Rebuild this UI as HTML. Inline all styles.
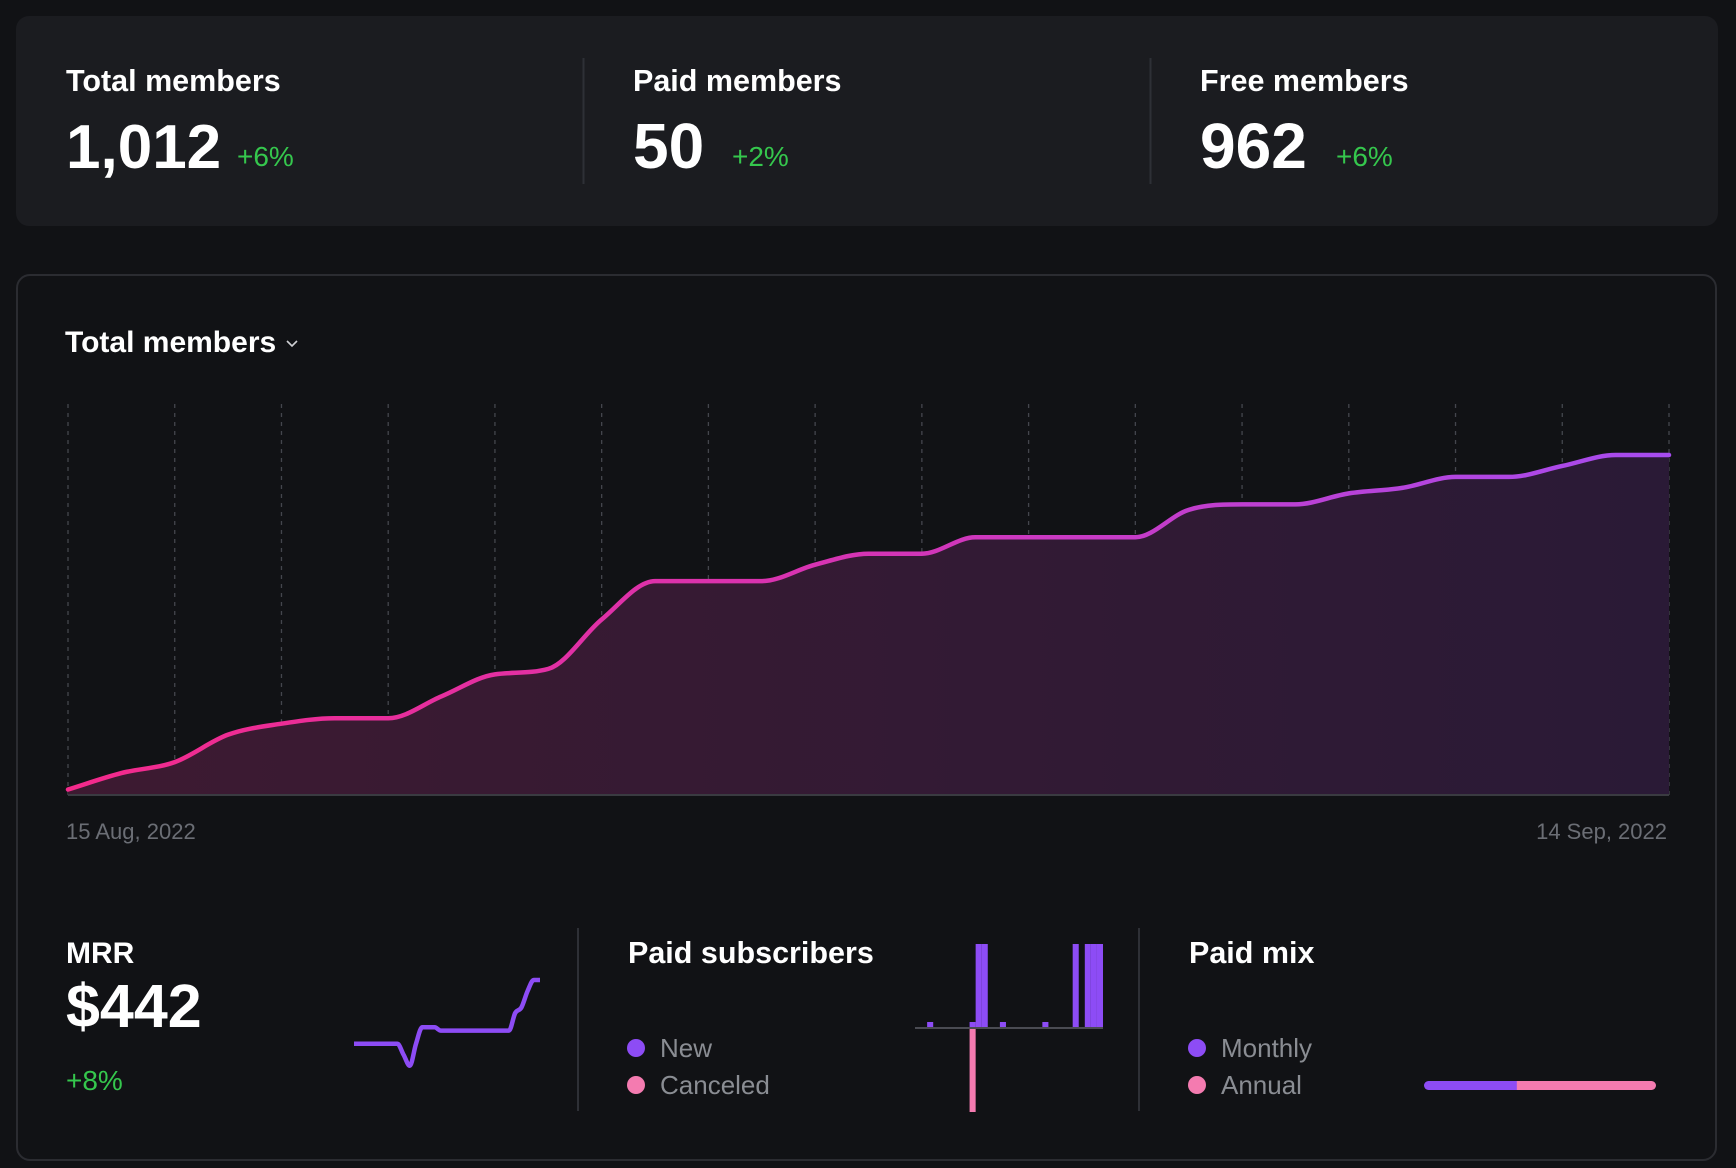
<!DOCTYPE html>
<html><head><meta charset="utf-8"><style>
html,body{margin:0;padding:0;background:#111215;}
svg{display:block;font-family:"Liberation Sans",sans-serif;}
</style></head><body>
<svg id="root" width="1736" height="1168" viewBox="0 0 1736 1168">
<defs>
<linearGradient id="lineGrad" x1="0" x2="1" y1="0" y2="0"><stop offset="0" stop-color="#f42a8b"/><stop offset="0.5" stop-color="#d534b5"/><stop offset="1" stop-color="#a64cf0"/></linearGradient>
<linearGradient id="fillGrad" x1="0" x2="1" y1="0" y2="0"><stop offset="0" stop-color="#3d1a31"/><stop offset="1" stop-color="#2a1a36"/></linearGradient>
</defs>
<rect x="16" y="16" width="1702" height="210" rx="13" fill="#1b1c20"/>
<g>
<text x="66" y="91" font-size="30.5" font-weight="bold" fill="#ffffff">Total members</text>
<text x="66" y="168" font-size="62" font-weight="bold" fill="#ffffff">1,012</text>
<text x="237" y="166" font-size="28" fill="#35c74d">+6%</text></g>
<line x1="583.5" y1="58" x2="583.5" y2="184" stroke="#2e3036" stroke-width="2"/>
<g>
<text x="633" y="91" font-size="30.5" font-weight="bold" fill="#ffffff">Paid members</text>
<text x="633" y="168" font-size="64" font-weight="bold" fill="#ffffff">50</text>
<text x="732" y="166" font-size="28" fill="#35c74d">+2%</text></g>
<line x1="1150.5" y1="58" x2="1150.5" y2="184" stroke="#2e3036" stroke-width="2"/>
<g>
<text x="1200" y="91" font-size="30.5" font-weight="bold" fill="#ffffff">Free members</text>
<text x="1200" y="168" font-size="64" font-weight="bold" fill="#ffffff">962</text>
<text x="1336" y="166" font-size="28" fill="#35c74d">+6%</text></g>

<rect x="17" y="275" width="1699" height="885" rx="13" fill="#111215" stroke="#2b2c31" stroke-width="2"/>
<g>
<text x="65" y="352" font-size="30" font-weight="bold" fill="#ffffff">Total members</text>
<path d="M287 341 L292 346 L297 341" fill="none" stroke="#cfd0d4" stroke-width="1.6"/></g>
<g id="grid"></g>
<path id="areaPath" fill="url(#fillGrad)"/>
<line x1="68" y1="795" x2="1669" y2="795" stroke="#3a3b41" stroke-width="2"/>
<path id="linePath" fill="none" stroke="url(#lineGrad)" stroke-width="4.5" stroke-linecap="round"/>
<text x="66" y="839" font-size="22" fill="#6b6e75">15 Aug, 2022</text>
<text x="1667" y="839" font-size="22" fill="#6b6e75" text-anchor="end">14 Sep, 2022</text>

<g>
<text x="66" y="963" font-size="30" font-weight="bold" fill="#ffffff">MRR</text>
<text x="66" y="1027" font-size="61" font-weight="bold" fill="#ffffff">$442</text>
<text x="66" y="1090" font-size="28" fill="#35c74d">+8%</text></g>
<path id="mrrPath" fill="none" stroke="#8d4cf5" stroke-width="4.5" stroke-linejoin="round"/>
<line x1="578" y1="928" x2="578" y2="1111" stroke="#2e3036" stroke-width="2"/>
<g>
<text x="628" y="963" font-size="30.5" font-weight="bold" fill="#ffffff">Paid subscribers</text>
<circle cx="636" cy="1048" r="9" fill="#8d4cf5"/>
<text x="660" y="1057" font-size="26" fill="#8a8d93">New</text>
<circle cx="636" cy="1085" r="9" fill="#f47bb0"/>
<text x="660" y="1094" font-size="26" fill="#8a8d93">Canceled</text></g>
<g id="subBars"></g>
<line x1="915" y1="1028" x2="1103" y2="1028" stroke="#4a4b52" stroke-width="2"/>
<line x1="1139" y1="928" x2="1139" y2="1111" stroke="#2e3036" stroke-width="2"/>
<g>
<text x="1189" y="963" font-size="30.5" font-weight="bold" fill="#ffffff">Paid mix</text>
<circle cx="1197" cy="1048" r="9" fill="#8d4cf5"/>
<text x="1221" y="1057" font-size="26" fill="#8a8d93">Monthly</text>
<circle cx="1197" cy="1085" r="9" fill="#f47bb0"/>
<text x="1221" y="1094" font-size="26" fill="#8a8d93">Annual</text></g>
<g id="mixBar"></g>
</svg>
<script>
const members = [951,954,956,961,963,964,964,968,972,973,982,989,989,989,992,994,994,997,997,997,997,1002,1003,1003,1005,1006,1008,1008,1010,1012,1012];
const memberDomain = [950, 1021.3];
const mrrValues = [413,413,413,413,413,413,413,413,408,403,413,420.5,420.5,420.5,419,419,419,419,419,419,419,419,419,419,419,419,427,429.5,437,442,442];
const subNew = [0,0,1,0,0,0,0,0,0,1,14,14,0,0,1,0,0,0,0,0,0,1,0,0,0,0,14,0,14,14,14];
const subCanceled = [0,0,0,0,0,0,0,0,0,14,0,0,0,0,0,0,0,0,0,0,0,0,0,0,0,0,0,0,0,0,0];
const mixLabels = ["Monthly","Annual"];
const mixValues = [20,30];

const NS="http://www.w3.org/2000/svg";
function mk(tag,attrs,parent){const e=document.createElementNS(NS,tag);for(const k in attrs)e.setAttribute(k,attrs[k]);parent.appendChild(e);return e;}
function monotone(pts){
  const n=pts.length;const d=[],m=[];
  for(let i=0;i<n-1;i++)d.push((pts[i+1][1]-pts[i][1])/(pts[i+1][0]-pts[i][0]));
  for(let i=0;i<n;i++){
    if(i===0)m.push(d[0]);else if(i===n-1)m.push(d[n-2]);
    else m.push(d[i-1]*d[i]<=0?0:(d[i-1]+d[i])/2);
  }
  for(let i=0;i<n-1;i++){if(d[i]===0){m[i]=0;m[i+1]=0;continue;}
    const a=m[i]/d[i],b=m[i+1]/d[i],s=a*a+b*b;if(s>9){const t=3/Math.sqrt(s);m[i]=t*a*d[i];m[i+1]=t*b*d[i];}}
  let p="M"+pts[0][0]+","+pts[0][1];
  for(let i=0;i<n-1;i++){const h=(pts[i+1][0]-pts[i][0])/3;
    p+=" C"+(pts[i][0]+h)+","+(pts[i][1]+m[i]*h)+" "+(pts[i+1][0]-h)+","+(pts[i+1][1]-m[i+1]*h)+" "+pts[i+1][0]+","+pts[i+1][1];}
  return p;
}
const X0=68,X1=1669,Y0=795,Y1=404;
const xS=i=>X0+(X1-X0)*i/(members.length-1);
const yS=v=>Y0-(v-memberDomain[0])/(memberDomain[1]-memberDomain[0])*(Y0-Y1);
const grid=document.getElementById('grid');
for(let i=0;i<members.length;i+=2){
  const g=mk('line',{x1:xS(i),x2:xS(i),y1:Y1,y2:Y0,stroke:'#44464d','stroke-width':1.3,'stroke-dasharray':'4 5'},grid);
  
  
}
const pts=members.map((v,i)=>[xS(i),yS(v)]);
const lp=monotone(pts);
document.getElementById('linePath').setAttribute('d',lp);
document.getElementById('areaPath').setAttribute('d',lp+" L"+X1+","+Y0+" L"+X0+","+Y0+" Z");
const mx0=354,mx1=540,mScale=2.2;
const mrrPts=mrrValues.map((v,i)=>[mx0+(mx1-mx0)*i/(mrrValues.length-1),980-(v-442)*mScale]);
document.getElementById('mrrPath').setAttribute('d',monotone(mrrPts));
const sb=document.getElementById('subBars');
const bx0=915,bx1=1103,bBase=1028,unit=6;
const slot=(bx1-bx0)/subNew.length;
subNew.forEach((v,i)=>{if(!v)return;
  const r=mk('rect',{x:bx0+i*slot,y:bBase-v*unit,width:slot,height:v*unit,fill:'#8d4cf5'},sb);
  
  
});
subCanceled.forEach((v,i)=>{if(!v)return;
  const r=mk('rect',{x:bx0+i*slot,y:bBase,width:slot,height:v*unit,fill:'#f47bb0'},sb);
  
  
});
const mb=document.getElementById('mixBar');
const tot=mixValues.reduce((a,b)=>a+b,0);
const mbx0=1424,mbw=232;
const w1=mbw*mixValues[0]/tot;
const a=mk('rect',{x:mbx0+w1-5,y:1081,width:mbw-w1+5,height:9,rx:4.5,fill:'#f47bb0'},mb);


const m=mk('path',{d:`M${mbx0+4.5},1081 H${mbx0+w1} V1090 H${mbx0+4.5} A4.5,4.5 0 0 1 ${mbx0+4.5},1081 Z`,fill:'#8d4cf5'},mb);


</script>
</body></html>
